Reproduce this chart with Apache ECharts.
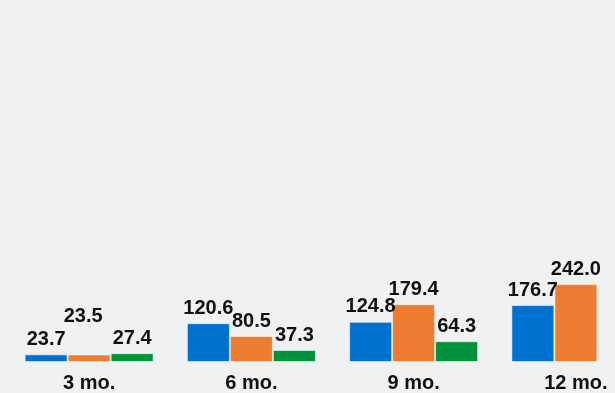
<!DOCTYPE html>
<html>
<head>
<meta charset="utf-8">
<script src="https://cdn.jsdelivr.net/npm/echarts@6/dist/echarts.min.js"></script>
<style>
html,body{margin:0;padding:0;background:#f0f1f3;}
#c{width:615px;height:393px;}
</style>
</head>
<body>
<div id="c"></div>
<script>
var categories = ['3 mo.', '6 mo.', '9 mo.', '12 mo.'];
var seriesBlue = [23.7, 120.6, 124.8, 176.7];
var seriesOrange = [23.5, 80.5, 179.4, 242.0];
var seriesGreen = [27.4, 37.3, 64.3, null];

var FONT = '"Liberation Sans Narrow", "Liberation Sans", Arial, sans-serif';
var labelStyle = {
  show: true,
  position: 'top',
  distance: 5,
  color: '#111',
  fontFamily: FONT,
  fontWeight: 'bold',
  fontSize: 20,
  formatter: function (p) { return p.value == null ? '' : Number(p.value).toFixed(1); }
};
function mk(name, data, color, extra) {
  var s = {
    name: name,
    type: 'bar',
    data: data,
    barWidth: 43,
    barGap: '0%',
    itemStyle: { color: color, borderColor: 'rgba(255,255,255,0.55)', borderWidth: 1 },
    label: labelStyle
  };
  if (extra) Object.assign(s, extra);
  return s;
}
var chart = echarts.init(document.getElementById('c'), null, { renderer: 'canvas' });
chart.setOption({
  backgroundColor: '#f0f1f3',
  animation: false,
  grid: { left: 8, width: 649, top: 40, height: 322, containLabel: false, outerBoundsMode: 'none' },
  xAxis: {
    type: 'category',
    data: categories,
    axisLine: { show: false },
    axisTick: { show: false },
    axisLabel: { color: '#111', fontFamily: FONT, fontWeight: 'bold', fontSize: 20, margin: 11 }
  },
  yAxis: { type: 'value', min: 0, max: 1000, show: false, splitLine: { show: false } },
  series: [
    mk('A', seriesBlue, '#0071cf'),
    mk('B', seriesOrange, '#ee7d31', {
      labelLayout: function (p) { return p.dataIndex === 0 ? { dx: -6, dy: -23 } : {}; }
    }),
    mk('C', seriesGreen, '#00913d')
  ]
});
</script>
</body>
</html>
